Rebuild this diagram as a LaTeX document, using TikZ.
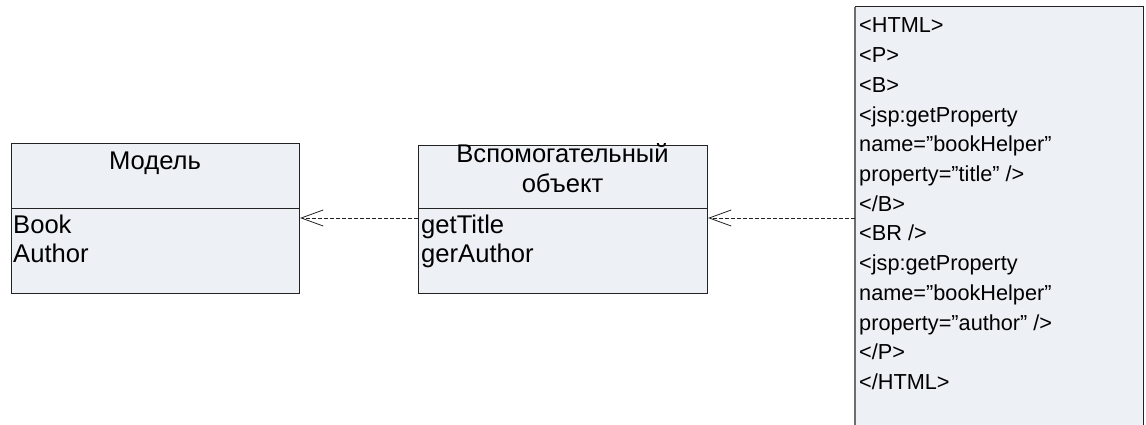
\documentclass[tikz,border=0pt]{standalone}
\usepackage{fontspec}
\setmainfont{Liberation Sans}
\usetikzlibrary{arrows.meta}

\definecolor{boxfill}{RGB}{237,240,245}
\definecolor{edgecol}{RGB}{35,35,35}
\definecolor{sidecol}{RGB}{110,110,110}

\tikzset{
  umlbox/.style={draw=edgecol, fill=boxfill, line width=1pt, anchor=north west, inner sep=0pt},
  txt/.style={font=\fontsize{25.6}{29.6}\selectfont, inner sep=0pt},
  codetxt/.style={font=\fontsize{21.7}{29.7}\selectfont, inner sep=0pt, anchor=base west},
  lefttxt/.style={txt, anchor=base west},
  midtxt/.style={txt, anchor=base},
  divider/.style={draw=edgecol, line width=1pt},
  dep/.style={draw=edgecol, line width=0.8pt, dash pattern=on 4pt off 2pt,
    -{Straight Barb[length=22pt,width=16pt,line width=0.8pt]}}
}

\begin{document}
\begin{tikzpicture}[x=1pt,y=-1pt]
\useasboundingbox (0,0) rectangle (1146,425);
\fill[white] (0,0) rectangle (1146,425);

% class "Модель"
\node[umlbox, minimum width=288pt, minimum height=150pt] (model) at (11,143) {};
\coordinate (mdiv) at (0,208);
\draw[divider] (model.west |- mdiv) -- (model.east |- mdiv);
\node[midtxt] (mtitle) at (155,170) {Модель};
\node[lefttxt] (mbook) at (13,233) {Book};
\node[lefttxt] (mauthor) at (13,262.5) {Author};

% helper object
\node[umlbox, minimum width=289pt, minimum height=148pt] (helper) at (418,145) {};
\draw[divider] (helper.west |- mdiv) -- (helper.east |- mdiv);
\node[midtxt] (htitle1) at (562.5,163) {Вспомогательный};
\node[midtxt] (htitle2) at (562.5,193) {объект};
\node[lefttxt] (hget1) at (421,233) {getTitle};
\node[lefttxt] (hget2) at (421,262.5) {gerAuthor};

% JSP page, running off the bottom edge
\node[fill=boxfill, anchor=north west, inner sep=0pt, minimum width=288pt, minimum height=418pt] (page) at (855,7) {};
\draw[edgecol, line width=1pt] (page.north west) -- (page.north east) -- (page.south east);
\draw[sidecol, line width=1.6pt] (page.south west) -- (page.north west);
\foreach \t [count=\i] in {
  {<HTML>}, {<P>}, {<B>}, {<jsp:getProperty}, {name=”bookHelper”},
  {property=”title” />}, {</B>}, {<BR />}, {<jsp:getProperty},
  {name=”bookHelper”}, {property=”author” />}, {</P>}, {</HTML>}}
  \node[codetxt] (code\i) at (859, {33+29.7*(\i-1)}) {\t};

% dependencies
\coordinate (lvl) at (0,218);
\draw[dep] (page.west |- lvl) -- (helper.east |- lvl);
\draw[dep] (helper.west |- lvl) -- (model.east |- lvl);
\end{tikzpicture}
\end{document}
